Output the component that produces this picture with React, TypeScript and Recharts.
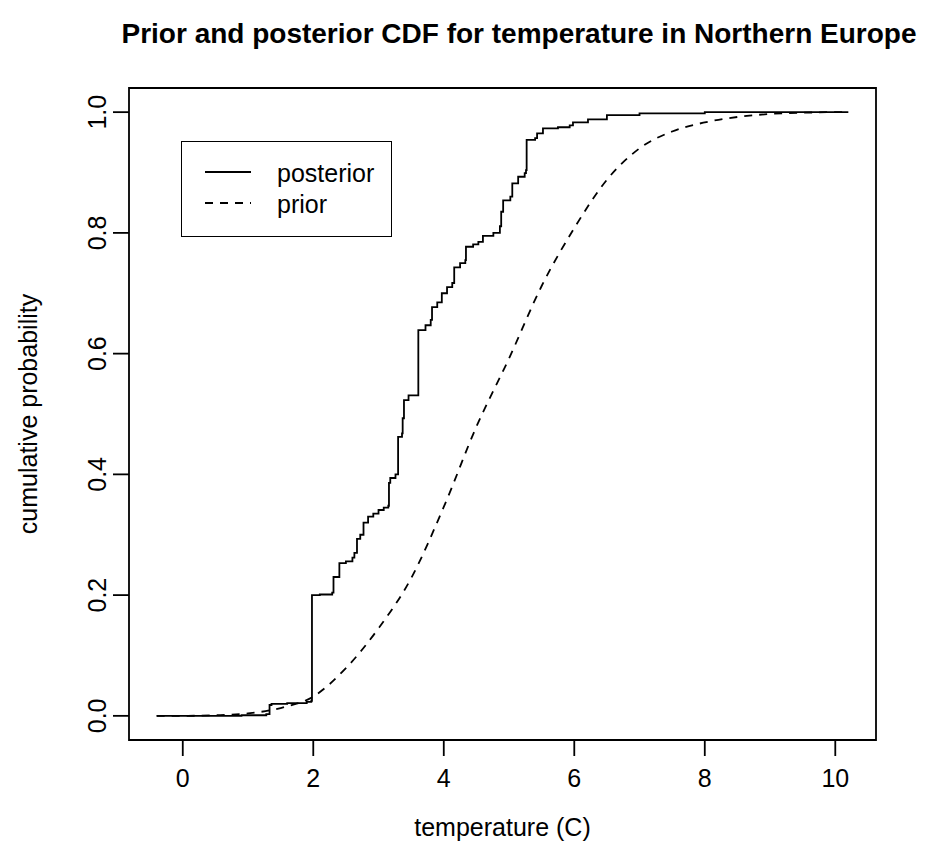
import React from 'react';
import { LineChart, Line, XAxis, YAxis, ReferenceArea } from 'recharts';

// posterior: empirical CDF steps (temperature, cumulative probability)
const posteriorTemp = [
  -0.4, 0.9, 1.28, 1.33, 1.36, 1.6, 1.9, 1.97, 1.98, 2.1, 2.29, 2.31, 2.4, 2.5, 2.6, 2.63, 2.67, 2.72,
  2.77, 2.84, 2.92, 3.0, 3.08, 3.15, 3.16, 3.18, 3.26, 3.3, 3.36, 3.37, 3.39, 3.46, 3.61, 3.72, 3.8,
  3.82, 3.9, 3.97, 4.05, 4.13, 4.16, 4.25, 4.33, 4.34, 4.45, 4.53, 4.6, 4.76, 4.86, 4.88, 4.91, 5.02,
  5.05, 5.14, 5.24, 5.26, 5.27, 5.4, 5.43, 5.52, 5.75, 5.93, 5.98, 6.21, 6.5, 7.0, 8.0, 10.2,
];
const posteriorProb = [
  0.0, 0.001, 0.003, 0.018, 0.02, 0.021, 0.023, 0.025, 0.2, 0.201, 0.204, 0.23, 0.253, 0.256, 0.262,
  0.27, 0.293, 0.3, 0.32, 0.33, 0.335, 0.341, 0.345, 0.348, 0.386, 0.394, 0.4, 0.462, 0.468, 0.493,
  0.523, 0.531, 0.639, 0.647, 0.656, 0.677, 0.685, 0.7, 0.71, 0.717, 0.743, 0.75, 0.755, 0.777, 0.781,
  0.785, 0.795, 0.8, 0.811, 0.835, 0.854, 0.86, 0.882, 0.893, 0.899, 0.904, 0.954, 0.957, 0.965,
  0.973, 0.975, 0.978, 0.983, 0.988, 0.995, 0.998, 1.0, 1.0,
];

// prior: smooth CDF
const priorTemp = [
  -0.4, 0, 0.5, 1.0, 1.5, 2.0, 2.5, 3.0, 3.5, 4.0, 4.5, 5.0, 5.5, 6.0, 6.5, 7.0, 7.5, 8.0, 8.5, 9.0,
  9.5, 10.0, 10.2,
];
const priorProb = [
  0.0, 0.0, 0.001, 0.004, 0.013, 0.032, 0.079, 0.145, 0.228, 0.346, 0.479, 0.592, 0.712, 0.808, 0.888,
  0.94, 0.968, 0.983, 0.992, 0.997, 0.999, 1.0, 1.0,
];

const xTicks = [0, 2, 4, 6, 8, 10];
const yTicks = [0, 0.2, 0.4, 0.6, 0.8, 1.0];

const posteriorData = posteriorTemp.map((t, i) => ({ t, p: posteriorProb[i] }));
const priorData = priorTemp.map((t, i) => ({ t, p: priorProb[i] }));

const FONT = '"Liberation Sans", Arial, Helvetica, sans-serif';
const FS = 25;
const W = 939;
const H = 866;
const PLOT = { left: 129, right: 876, top: 88, bottom: 740 };
const X_DOMAIN: [number, number] = [-0.824, 10.624];
const Y_DOMAIN: [number, number] = [-0.04, 1.04];

const YTick = (props: any) => {
  const { x, y, payload } = props;
  const bx = x - 5;
  return (
    <text x={bx} y={y} transform={`rotate(-90, ${bx}, ${y})`} textAnchor="middle" fontSize={FS} fill="#000" fontFamily={FONT}>
      {Number(payload.value).toFixed(1)}
    </text>
  );
};

const App = () => {
  const midX = (PLOT.left + PLOT.right) / 2;
  const midY = (PLOT.top + PLOT.bottom) / 2;
  return (
    <div style={{ position: 'absolute', left: 0, top: 0, width: W, height: H, background: '#fff', fontFamily: FONT }}>
      <LineChart
        width={W}
        height={H}
        margin={{ top: PLOT.top, right: W - PLOT.right, bottom: H - PLOT.bottom - 60, left: PLOT.left - 60 }}
      >
        <XAxis
          type="number"
          dataKey="t"
          domain={X_DOMAIN}
          ticks={xTicks}
          allowDataOverflow
          height={60}
          axisLine={false}
          tickLine={{ stroke: '#000', strokeWidth: 1.8 }}
          tickSize={16}
          tickMargin={13}
          tick={{ fill: '#000', fontSize: FS, fontFamily: FONT }}
        />
        <YAxis
          type="number"
          dataKey="p"
          domain={Y_DOMAIN}
          ticks={yTicks}
          allowDataOverflow
          width={60}
          axisLine={false}
          tickLine={{ stroke: '#000', strokeWidth: 1.8 }}
          tickSize={16}
          tickMargin={2}
          tick={YTick}
        />
        <ReferenceArea
          x1={X_DOMAIN[0]}
          x2={X_DOMAIN[1]}
          y1={Y_DOMAIN[0]}
          y2={Y_DOMAIN[1]}
          fill="none"
          fillOpacity={0}
          stroke="#000"
          strokeWidth={1.8}
          ifOverflow="visible"
        />
        <Line
          data={priorData}
          dataKey="p"
          type="monotone"
          stroke="#000"
          strokeWidth={1.8}
          strokeDasharray="8 7"
          dot={false}
          activeDot={false}
          isAnimationActive={false}
        />
        <Line
          data={posteriorData}
          dataKey="p"
          type="stepAfter"
          stroke="#000"
          strokeWidth={1.8}
          dot={false}
          activeDot={false}
          isAnimationActive={false}
        />
      </LineChart>

      {/* title and axis titles */}
      <svg width={W} height={H} style={{ position: 'absolute', left: 0, top: 0, pointerEvents: 'none' }}>
        <text x={519} y={43} textAnchor="middle" fontSize={28} fontWeight="bold" fill="#000" fontFamily={FONT}>
          Prior and posterior CDF for temperature in Northern Europe
        </text>
        <text x={midX} y={836} textAnchor="middle" fontSize={FS} fill="#000" fontFamily={FONT}>
          temperature (C)
        </text>
        <text x={37} y={midY} transform={`rotate(-90, 37, ${midY})`} textAnchor="middle" fontSize={FS} fill="#000" fontFamily={FONT}>
          cumulative probability
        </text>
      </svg>

      {/* legend */}
      <div
        style={{
          position: 'absolute',
          left: 181,
          top: 141,
          width: 211,
          height: 96,
          boxSizing: 'border-box',
          border: '1.8px solid #000',
          background: '#fff',
        }}
      >
        <svg width={209} height={94} style={{ position: 'absolute', left: 0, top: 0 }}>
          <line x1={23} y1={30} x2={69} y2={30} stroke="#000" strokeWidth={1.8} />
          <line x1={23} y1={61} x2={69} y2={61} stroke="#000" strokeWidth={1.8} strokeDasharray="8 7" />
          <text x={95} y={40} fontSize={FS} fill="#000" fontFamily={FONT}>posterior</text>
          <text x={95} y={71} fontSize={FS} fill="#000" fontFamily={FONT}>prior</text>
        </svg>
      </div>
    </div>
  );
};

export default App;
